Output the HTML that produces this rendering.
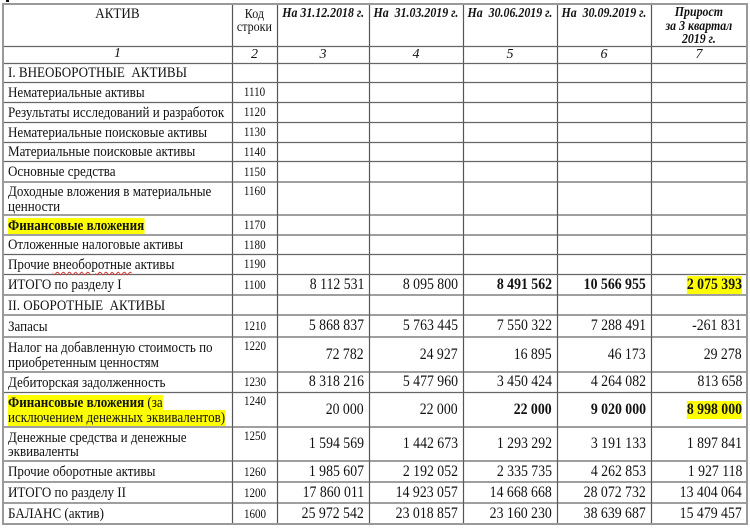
<!DOCTYPE html>
<html><head><meta charset="utf-8"><style>
html,body{margin:0;padding:0;background:#fff;}
#c{position:relative;width:750px;height:529px;overflow:hidden;font-family:"Liberation Serif","DejaVu Serif",serif;color:#111;background:#fff;}
svg{position:absolute;left:0;top:0;}
.r{position:absolute;left:0;width:750px;}
.r>div{position:absolute;top:0;height:100%;display:flex;align-items:center;box-sizing:border-box;white-space:nowrap;}
.s{display:inline-block;transform:scaleX(.87);transform-origin:50% 50%;white-space:nowrap;}
.a{left:3px;width:229px;padding-left:5px;padding-top:2px;font-size:15px;line-height:14.5px;}
.a .s{transform-origin:0 50%;}
.k{left:232px;width:45px;justify-content:center;font-size:13px;}
.k .s{transform:scaleX(.85);}
.tall>.k{align-items:flex-start !important;padding-top:1px;}
.d3{left:277px;width:92px;}
.d4{left:369px;width:94px;}
.d5{left:463px;width:94px;}
.d6{left:557px;width:94px;}
.d7{left:651px;width:96px;}
.d{justify-content:flex-end;padding-right:5px;font-size:15.5px;}
.d .s{transform:scaleX(.89);transform-origin:100% 50%;}
.hl{background:#ffff00;}
.b{font-weight:bold;}
.h>div{align-items:flex-start !important;justify-content:center;text-align:center;}
.hd{font-weight:bold;font-style:italic;font-size:14px;line-height:13px;padding-top:2.5px;}
.hd .s{transform:scaleX(.85);}
.num>div{justify-content:center;font-style:italic;font-size:14px;}
.wavy{text-decoration:underline wavy #d03030;text-decoration-thickness:1px;text-underline-offset:2px;}
</style></head><body><div id="c">
<svg width="750" height="529">
<rect x="6" y="0" width="3" height="2" fill="#111"/>
<g stroke="#555" stroke-width="1.2">
<line x1="232.5" y1="4" x2="232.5" y2="524"/>
<line x1="277.5" y1="4" x2="277.5" y2="524"/>
<line x1="369.5" y1="4" x2="369.5" y2="524"/>
<line x1="463.5" y1="4" x2="463.5" y2="524"/>
<line x1="557.5" y1="4" x2="557.5" y2="524"/>
<line x1="651.5" y1="4" x2="651.5" y2="524"/>
</g>
<g stroke="#666" stroke-width="1.3">
<line x1="3" y1="46.5" x2="747" y2="46.5"/>
<line x1="3" y1="63.5" x2="747" y2="63.5"/>
<line x1="3" y1="82.5" x2="747" y2="82.5"/>
<line x1="3" y1="102.5" x2="747" y2="102.5"/>
<line x1="3" y1="122.5" x2="747" y2="122.5"/>
<line x1="3" y1="142.5" x2="747" y2="142.5"/>
<line x1="3" y1="161.5" x2="747" y2="161.5"/>
<line x1="3" y1="182" x2="747" y2="182"/>
<line x1="3" y1="215" x2="747" y2="215"/>
<line x1="3" y1="235" x2="747" y2="235"/>
<line x1="3" y1="254.5" x2="747" y2="254.5"/>
<line x1="3" y1="274.5" x2="747" y2="274.5"/>
<line x1="3" y1="295" x2="747" y2="295"/>
<line x1="3" y1="315" x2="747" y2="315"/>
<line x1="3" y1="337" x2="747" y2="337"/>
<line x1="3" y1="372" x2="747" y2="372"/>
<line x1="3" y1="392.5" x2="747" y2="392.5"/>
<line x1="3" y1="427" x2="747" y2="427"/>
<line x1="3" y1="461" x2="747" y2="461"/>
<line x1="3" y1="482" x2="747" y2="482"/>
<line x1="3" y1="503" x2="747" y2="503"/>
</g>
<rect x="3" y="4" width="744" height="520" fill="none" stroke="#999" stroke-width="2"/>
</svg>

<!-- header -->
<div class="r h" style="top:4px;height:42px">
  <div class="a" style="padding-left:0;padding-top:3px;font-size:15px;line-height:14px"><span class="s" style="transform-origin:50% 50%">АКТИВ</span></div>
  <div class="k" style="font-size:14px;line-height:13px;padding-top:3.5px;white-space:normal"><span class="s" style="transform:scaleX(.86)">Код<br>строки</span></div>
  <div class="d3 hd"><span class="s">На 31.12.2018 г.</span></div>
  <div class="d4 hd" style="white-space:pre"><span class="s" style="white-space:pre">На  31.03.2019 г.</span></div>
  <div class="d5 hd" style="white-space:pre"><span class="s" style="white-space:pre">На  30.06.2019 г.</span></div>
  <div class="d6 hd" style="white-space:pre"><span class="s" style="white-space:pre">На  30.09.2019 г.</span></div>
  <div class="d7 hd" style="padding-top:1px;line-height:13.5px;font-size:13.5px"><span class="s" style="transform:scaleX(.88)">Прирост<br>за 3 квартал<br>2019 г.</span></div>
</div>
<div class="r num" style="top:46px;height:17px">
  <div class="a" style="padding-left:0;padding-top:0;font-size:14px">1</div>
  <div class="k" style="font-size:14px">2</div>
  <div class="d3">3</div><div class="d4">4</div><div class="d5">5</div><div class="d6">6</div><div class="d7">7</div>
</div>

<div class="r" style="top:63px;height:19px"><div class="a"><span class="s" style="white-space:pre">I. ВНЕОБОРОТНЫЕ  АКТИВЫ</span></div></div>
<div class="r" style="top:82px;height:20px"><div class="a"><span class="s">Нематериальные активы</span></div><div class="k"><span class="s">1110</span></div></div>
<div class="r" style="top:102px;height:20px"><div class="a"><span class="s">Результаты исследований и разработок</span></div><div class="k"><span class="s">1120</span></div></div>
<div class="r" style="top:122px;height:20px"><div class="a"><span class="s">Нематериальные поисковые активы</span></div><div class="k"><span class="s">1130</span></div></div>
<div class="r" style="top:142px;height:19px"><div class="a"><span class="s">Материальные поисковые активы</span></div><div class="k"><span class="s">1140</span></div></div>
<div class="r" style="top:161px;height:21px"><div class="a"><span class="s">Основные средства</span></div><div class="k"><span class="s">1150</span></div></div>
<div class="r tall" style="top:182px;height:33px"><div class="a"><span class="s">Доходные вложения в материальные<br>ценности</span></div><div class="k"><span class="s">1160</span></div></div>
<div class="r" style="top:215px;height:20px"><div class="a"><span class="s"><span class="hl b">Финансовые вложения</span></span></div><div class="k"><span class="s">1170</span></div></div>
<div class="r" style="top:235px;height:19px"><div class="a"><span class="s">Отложенные налоговые активы</span></div><div class="k"><span class="s">1180</span></div></div>
<div class="r" style="top:254px;height:20px"><div class="a"><span class="s">Прочие <span class="wavy">внеоборотные</span> активы</span></div><div class="k"><span class="s">1190</span></div></div>
<div class="r" style="top:274px;height:21px"><div class="a"><span class="s">ИТОГО по разделу I</span></div><div class="k"><span class="s">1100</span></div>
  <div class="d3 d"><span class="s">8 112 531</span></div><div class="d4 d"><span class="s">8 095 800</span></div><div class="d5 d b"><span class="s">8 491 562</span></div><div class="d6 d b"><span class="s">10 566 955</span></div><div class="d7 d b"><span class="s hl">2 075 393</span></div></div>
<div class="r" style="top:295px;height:20px"><div class="a"><span class="s" style="white-space:pre">II. ОБОРОТНЫЕ  АКТИВЫ</span></div></div>
<div class="r" style="top:315px;height:22px"><div class="a"><span class="s">Запасы</span></div><div class="k"><span class="s">1210</span></div>
  <div class="d3 d"><span class="s">5 868 837</span></div><div class="d4 d"><span class="s">5 763 445</span></div><div class="d5 d"><span class="s">7 550 322</span></div><div class="d6 d"><span class="s">7 288 491</span></div><div class="d7 d"><span class="s">-261 831</span></div></div>
<div class="r tall" style="top:337px;height:35px"><div class="a"><span class="s">Налог на добавленную стоимость по<br>приобретенным ценностям</span></div><div class="k"><span class="s">1220</span></div>
  <div class="d3 d"><span class="s">72 782</span></div><div class="d4 d"><span class="s">24 927</span></div><div class="d5 d"><span class="s">16 895</span></div><div class="d6 d"><span class="s">46 173</span></div><div class="d7 d"><span class="s">29 278</span></div></div>
<div class="r" style="top:372px;height:20px"><div class="a"><span class="s">Дебиторская задолженность</span></div><div class="k"><span class="s">1230</span></div>
  <div class="d3 d"><span class="s">8 318 216</span></div><div class="d4 d"><span class="s">5 477 960</span></div><div class="d5 d"><span class="s">3 450 424</span></div><div class="d6 d"><span class="s">4 264 082</span></div><div class="d7 d"><span class="s">813 658</span></div></div>
<div class="r tall" style="top:392px;height:35px"><div class="a"><span class="s"><span class="hl"><b>Финансовые вложения</b> (за</span><br><span class="hl">исключением денежных эквивалентов)</span></span></div><div class="k"><span class="s">1240</span></div>
  <div class="d3 d"><span class="s">20 000</span></div><div class="d4 d"><span class="s">22 000</span></div><div class="d5 d b"><span class="s">22 000</span></div><div class="d6 d b"><span class="s">9 020 000</span></div><div class="d7 d b"><span class="s hl">8 998 000</span></div></div>
<div class="r tall" style="top:427px;height:34px"><div class="a"><span class="s">Денежные средства и денежные<br>эквиваленты</span></div><div class="k"><span class="s">1250</span></div>
  <div class="d3 d"><span class="s">1 594 569</span></div><div class="d4 d"><span class="s">1 442 673</span></div><div class="d5 d"><span class="s">1 293 292</span></div><div class="d6 d"><span class="s">3 191 133</span></div><div class="d7 d"><span class="s">1 897 841</span></div></div>
<div class="r" style="top:461px;height:21px"><div class="a"><span class="s">Прочие оборотные активы</span></div><div class="k"><span class="s">1260</span></div>
  <div class="d3 d"><span class="s">1 985 607</span></div><div class="d4 d"><span class="s">2 192 052</span></div><div class="d5 d"><span class="s">2 335 735</span></div><div class="d6 d"><span class="s">4 262 853</span></div><div class="d7 d"><span class="s">1 927 118</span></div></div>
<div class="r" style="top:482px;height:21px"><div class="a"><span class="s">ИТОГО по разделу II</span></div><div class="k"><span class="s">1200</span></div>
  <div class="d3 d"><span class="s">17 860 011</span></div><div class="d4 d"><span class="s">14 923 057</span></div><div class="d5 d"><span class="s">14 668 668</span></div><div class="d6 d"><span class="s">28 072 732</span></div><div class="d7 d"><span class="s">13 404 064</span></div></div>
<div class="r" style="top:503px;height:21px"><div class="a"><span class="s">БАЛАНС (актив)</span></div><div class="k"><span class="s">1600</span></div>
  <div class="d3 d"><span class="s">25 972 542</span></div><div class="d4 d"><span class="s">23 018 857</span></div><div class="d5 d"><span class="s">23 160 230</span></div><div class="d6 d"><span class="s">38 639 687</span></div><div class="d7 d"><span class="s">15 479 457</span></div></div>
</div></body></html>
